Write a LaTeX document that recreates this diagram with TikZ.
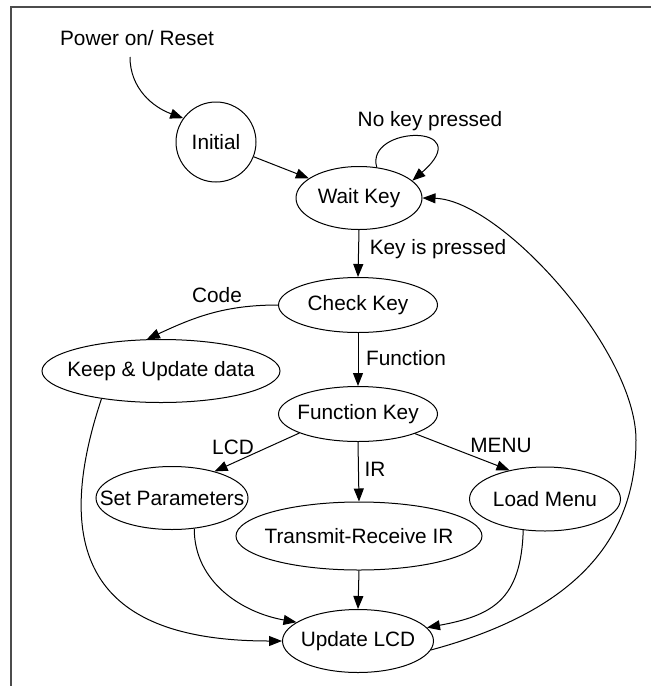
\documentclass[tikz,border=0pt]{standalone}
\usepackage{fontspec}
\setmainfont{Liberation Sans}
\usetikzlibrary{shapes.geometric,arrows.meta}
% zero-width box so the text does not enlarge the state outline
\newcommand{\ctr}[1]{\makebox[0pt]{#1}}
\begin{document}
\begin{tikzpicture}[x=1pt,y=1pt,
  every node/.style={font=\fontsize{20.8}{24}\selectfont},
  state/.style={draw, ellipse, inner sep=0pt, line width=1pt},
  flow/.style={line width=1pt, -{Triangle[length=13pt,width=10pt]}},
  lbl/.style={inner sep=0pt}]
\useasboundingbox (0,0) rectangle (651,-686);
% frame
\draw[line width=1.6pt, black!70] (11,-686) -- (11,-7) -- (651,-7);

% states
\node[state, circle, minimum size=80pt] (init) at (216,-142) {\ctr{Initial}};
\node[state, minimum width=126pt, minimum height=63pt] (wait) at (359,-198) {\ctr{Wait Key}};
\node[state, minimum width=159pt, minimum height=55pt] (check) at (358,-305) {\ctr{Check Key}};
\node[state, minimum width=238pt, minimum height=63pt] (keep) at (161,-371) {\ctr{Keep \& Update data}};
\node[state, minimum width=159pt, minimum height=55pt] (func) at (358,-414) {\ctr{Function Key}};
\node[state, minimum width=152pt, minimum height=63pt] (setp) at (172,-498) {\ctr{Set Parameters}};
\node[state, minimum width=246pt, minimum height=68pt] (trans) at (359,-536) {\ctr{Transmit-Receive IR}};
\node[state, minimum width=151pt, minimum height=64pt] (load) at (545,-499) {\ctr{Load Menu}};
\node[state, minimum width=151pt, minimum height=63pt] (upd) at (358,-641) {\ctr{Update LCD}};

% labels
\node[lbl] (pwr) at (137,-38) {Power on/ Reset};
\coordinate (pstart) at (130,-57);
\node[lbl] (nokey) at (430,-121) {No key pressed};
\node[lbl] (kip) at (438,-249) {Key is pressed};
\node[lbl] (code) at (217,-295) {Code};
\node[lbl] (fn) at (406,-358) {Function};
\node[lbl] (lcd) at (233,-447) {LCD};
\node[lbl] (ir) at (375,-469) {IR};
\node[lbl] (menu) at (501,-445) {MENU};

% transitions
\draw[flow] (pstart) to[out=-90,in=160] (init.144);
\draw[flow] (init) -- (wait);
\draw[flow] (wait.60) .. controls +(-12,42) and +(67,58) .. (wait.18);
\draw[flow] (wait.south) -- (check.north);
\draw[flow] (check.west) to[out=180,in=25] (keep.114);
\draw[flow] (check.south) -- (func.north);
\draw[flow] (func.198) -- (setp.32);
\draw[flow] (func.south) -- (trans.north);
\draw[flow] (func.341) -- (load.141);
\draw[flow] (trans.south) -- (upd.north);
\draw[flow] (setp.306) to[out=-90,in=170] (upd.163);
\draw[flow] (keep.205) .. controls +(-60,-180) and +(-163,0) .. (upd.west);
\draw[flow] (load.235) .. controls +(-2,-70) and +(65,12) .. (upd.11);
\coordinate (rbend) at (636,-440);
\draw[flow] (upd.353) .. controls +(130,35) and +(0,-110) .. (rbend)
  .. controls +(0,90) and +(78,-2) .. (wait.east);
\end{tikzpicture}
\end{document}
